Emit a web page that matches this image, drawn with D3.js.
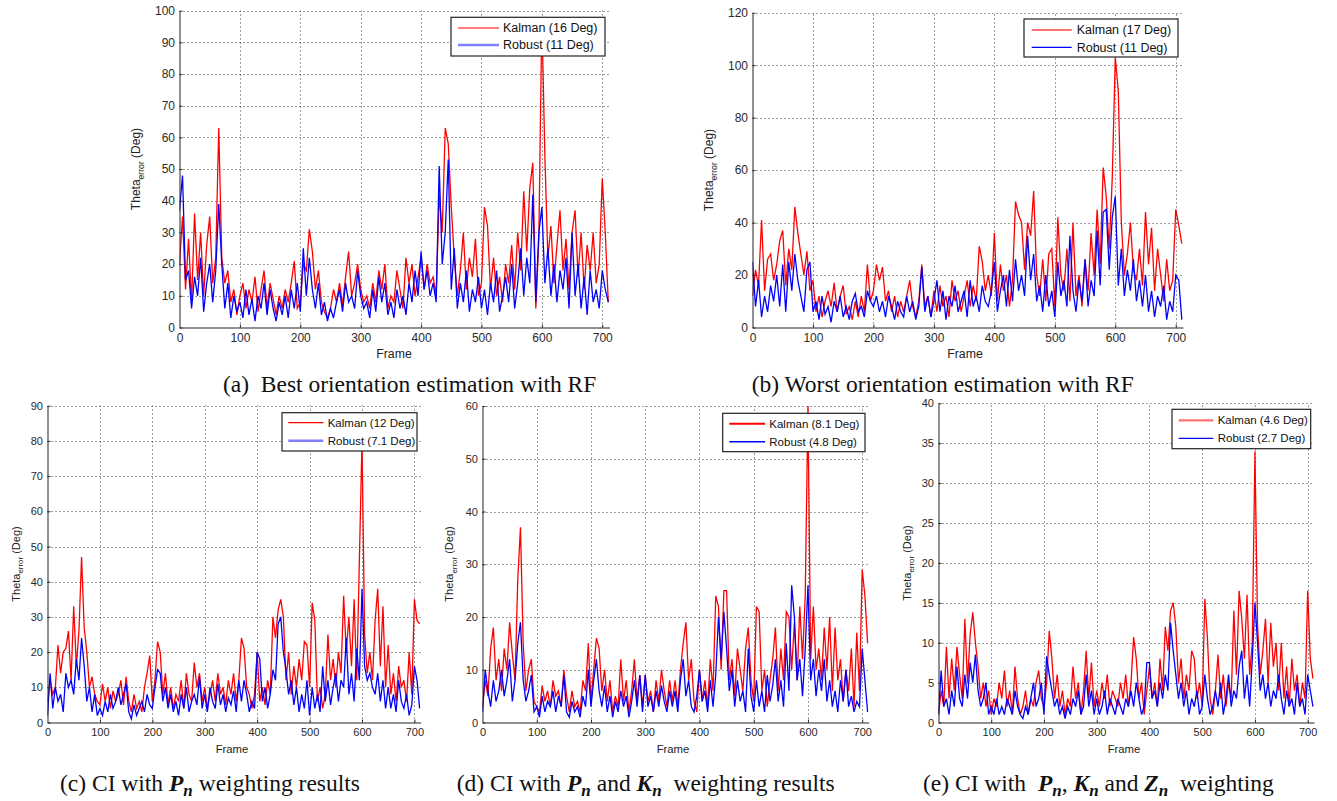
<!DOCTYPE html>
<html>
<head>
<meta charset="utf-8">
<script src="https://cdn.jsdelivr.net/npm/d3@7"></script>
<style>
  body { margin: 0; background: #fff; }
  svg { display: block; }
</style>
</head>
<body>
<svg id="fig" width="1337" height="801"></svg>
<script>
// one value every 5 frames, frames 0..710
const FRAME_STEP = 5;
const FRAME_MAX = 712;
const xTicks = [0, 100, 200, 300, 400, 500, 600, 700];

// (a) best orientation estimation with RF
const aKalman = [
  20, 35, 12, 28, 8, 36, 15, 30, 10, 26,
  35, 14, 22, 63, 22, 14, 18, 8, 12, 4,
  10, 14, 6, 12, 8, 16, 5, 12, 18, 6,
  14, 9, 4, 10, 6, 12, 8, 14, 21, 6,
  8, 20, 18, 31, 24, 12, 18, 8, 5, 3,
  6, 12, 8, 14, 7, 16, 24, 10, 14, 20,
  12, 8, 10, 6, 14, 8, 18, 12, 20, 6,
  10, 8, 18, 12, 6, 22, 14, 20, 10, 16,
  22, 12, 20, 14, 16, 10, 42, 30, 63, 58,
  38, 22, 10, 18, 30, 12, 22, 16, 28, 10,
  14, 38, 32, 12, 22, 10, 16, 8, 20, 14,
  26, 12, 30, 18, 43, 24, 44, 52, 6, 28,
  98, 54, 22, 32, 14, 26, 37, 18, 28, 12,
  30, 37, 16, 30, 12, 26, 18, 30, 14, 20,
  47, 30, 8
];
const aRobust = [
  37, 48, 15, 18, 6, 16, 10, 22, 5, 14,
  20, 8, 18, 39, 20, 6, 14, 3, 10, 5,
  8, 3, 12, 4, 9, 2, 10, 6, 14, 4,
  12, 6, 2, 8, 4, 10, 3, 12, 6, 14,
  5, 25, 10, 22, 12, 6, 14, 4, 8, 2,
  6, 3, 8, 12, 5, 14, 8, 10, 6, 18,
  10, 6, 8, 3, 12, 5, 16, 8, 14, 4,
  8, 3, 12, 6, 10, 4, 14, 8, 18, 10,
  24, 12, 18, 10, 14, 8, 51, 20, 30, 53,
  12, 25, 6, 14, 8, 18, 5, 12, 8, 16,
  6, 12, 4, 14, 8, 18, 5, 10, 16, 8,
  20, 6, 14, 25, 10, 22, 14, 42, 8, 30,
  38, 14, 25, 10, 20, 8, 18, 12, 22, 6,
  30, 10, 20, 6, 16, 4, 18, 8, 12, 6,
  18, 12, 8
];
const aYTicks = [0, 10, 20, 30, 40, 50, 60, 70, 80, 90, 100];
const aLegend = ['Kalman (16 Deg)', 'Robust (11 Deg)'];

// (b) worst orientation estimation with RF
const bKalman = [
  12, 22, 16, 41, 14, 26, 28, 18, 24, 33,
  37, 16, 30, 22, 46, 36, 28, 20, 29, 14,
  18, 6, 12, 4, 10, 14, 8, 17, 6, 12,
  16, 5, 8, 3, 10, 4, 12, 6, 24, 10,
  14, 24, 18, 23, 10, 14, 6, 12, 4, 10,
  6, 12, 18, 8, 4, 10, 24, 8, 12, 4,
  14, 6, 16, 8, 12, 4, 18, 10, 14, 6,
  12, 18, 8, 16, 10, 31, 25, 14, 20, 12,
  36, 10, 24, 14, 20, 8, 18, 48, 43, 40,
  22, 40, 35, 52, 20, 12, 26, 10, 28, 30,
  8, 42, 20, 14, 30, 10, 40, 12, 20, 8,
  26, 14, 36, 20, 45, 24, 61, 50, 30, 57,
  103, 90, 40, 20, 28, 40, 22, 18, 30, 16,
  44, 24, 38, 14, 30, 20, 10, 26, 14, 18,
  45, 39, 32
];
const bRobust = [
  25, 8, 18, 4, 12, 6, 16, 10, 20, 8,
  24, 6, 25, 14, 28, 18, 12, 6, 22, 25,
  6, 10, 3, 12, 5, 8, 2, 10, 6, 12,
  4, 8, 3, 10, 13, 6, 8, 4, 14, 10,
  8, 12, 6, 10, 4, 12, 8, 3, 10, 6,
  4, 12, 6, 10, 3, 8, 23, 6, 12, 4,
  10, 18, 6, 14, 3, 12, 8, 16, 6, 10,
  14, 4, 18, 8, 12, 6, 16, 10, 8, 14,
  25, 6, 14, 20, 8, 22, 10, 26, 14, 20,
  12, 35, 18, 28, 10, 16, 6, 20, 8, 14,
  4, 25, 12, 18, 8, 35, 14, 6, 18, 10,
  26, 8, 18, 12, 37, 16, 44, 45, 22, 42,
  50, 16, 30, 12, 22, 14, 26, 10, 18, 8,
  20, 6, 14, 4, 12, 8, 16, 3, 10, 6,
  20, 18, 3
];
const bYTicks = [0, 20, 40, 60, 80, 100, 120];
const bLegend = ['Kalman (17 Deg)', 'Robust (11 Deg)'];

// (c) CI with Pn weighting
const cKalman = [
  6, 12, 8, 10, 22, 14, 20, 21, 26, 12,
  33, 16, 26, 47, 27, 20, 10, 13, 8, 6,
  5, 11, 6, 10, 4, 9, 6, 8, 12, 5,
  13, 6, 3, 8, 4, 6, 3, 10, 14, 19,
  6, 12, 23, 20, 8, 14, 5, 10, 4, 8,
  6, 12, 4, 14, 8, 6, 17, 10, 14, 6,
  10, 4, 8, 12, 6, 14, 8, 10, 5, 12,
  8, 14, 6, 12, 24, 21, 10, 8, 4, 8,
  20, 6, 10, 5, 12, 8, 30, 24, 32, 35,
  30, 12, 20, 8, 16, 10, 18, 12, 23, 22,
  10, 34, 29, 6, 10, 4, 8, 25, 12, 18,
  10, 20, 14, 36, 20, 30, 16, 35, 12, 46,
  80, 25, 14, 20, 12, 29, 38, 16, 33, 10,
  22, 8, 14, 6, 16, 10, 12, 6, 20, 8,
  35, 29, 28
];
const cRobust = [
  2, 14, 4, 10, 6, 8, 3, 14, 10, 12,
  8, 18, 12, 24, 16, 6, 10, 3, 8, 2,
  4, 2, 6, 3, 8, 4, 6, 10, 5, 8,
  11, 3, 1, 5, 2, 4, 6, 3, 8, 5,
  4, 10, 15, 14, 6, 10, 4, 8, 3, 6,
  2, 8, 4, 10, 3, 6, 8, 5, 13, 4,
  8, 3, 10, 6, 4, 11, 5, 8, 3, 7,
  5, 9, 3, 12, 6, 12, 8, 3, 6, 4,
  20, 18, 6, 10, 4, 8, 15, 12, 28, 30,
  20, 15, 8, 12, 5, 10, 3, 8, 4, 12,
  2, 10, 4, 8, 3, 16, 6, 12, 5, 10,
  14, 6, 12, 10, 24, 8, 14, 6, 21, 12,
  38, 16, 12, 14, 10, 8, 14, 6, 12, 4,
  10, 4, 8, 3, 12, 6, 4, 8, 2, 5,
  16, 12, 4
];
const cYTicks = [0, 10, 20, 30, 40, 50, 60, 70, 80, 90];
const cLegend = ['Kalman (12 Deg)', 'Robust (7.1 Deg)'];

// (d) CI with Pn and Kn weighting
const dKalman = [
  3, 8, 5, 14, 18, 8, 12, 6, 14, 10,
  19, 13, 8, 27, 37, 15, 6, 10, 12, 4,
  3, 2, 7, 4, 6, 3, 8, 5, 6, 3,
  10, 5, 2, 6, 3, 4, 2, 8, 6, 15,
  4, 10, 16, 14, 6, 10, 4, 8, 2, 5,
  3, 12, 4, 8, 2, 6, 12, 4, 9, 3,
  9, 4, 6, 2, 8, 4, 10, 6, 3, 8,
  4, 8, 3, 10, 15, 19, 8, 12, 4, 2,
  10, 4, 8, 3, 12, 6, 24, 22, 10, 25,
  25, 8, 12, 5, 14, 10, 6, 14, 18, 8,
  4, 22, 21, 6, 10, 3, 8, 12, 18, 6,
  14, 8, 21, 20, 10, 19, 8, 22, 12, 24,
  60, 12, 22, 10, 14, 8, 18, 10, 20, 6,
  18, 8, 12, 4, 10, 6, 14, 3, 17, 6,
  29, 24, 15
];
const dRobust = [
  2, 10, 6, 3, 8, 4, 6, 10, 5, 8,
  12, 4, 8, 15, 19, 8, 4, 6, 9, 2,
  3, 1, 5, 2, 4, 3, 6, 2, 5, 3,
  9, 2, 1, 4, 2, 3, 1, 5, 3, 10,
  3, 8, 12, 6, 3, 7, 2, 5, 1, 4,
  2, 6, 3, 5, 1, 4, 8, 3, 9, 2,
  9, 3, 5, 2, 6, 3, 7, 4, 2, 6,
  3, 6, 2, 8, 12, 5, 8, 3, 2, 5,
  10, 4, 6, 2, 8, 3, 9, 20, 12, 21,
  14, 6, 10, 3, 8, 4, 6, 2, 14, 5,
  2, 8, 3, 6, 2, 9, 4, 7, 12, 4,
  8, 3, 15, 6, 26, 20, 8, 12, 5, 14,
  26, 8, 12, 5, 10, 6, 12, 4, 8, 3,
  6, 2, 8, 4, 10, 3, 5, 2, 4, 3,
  14, 8, 2
];
const dYTicks = [0, 10, 20, 30, 40, 50, 60];
const dLegend = ['Kalman (8.1 Deg)', 'Robust (4.8 Deg)'];

// (e) CI with Pn, Kn and Zn weighting
const eKalman = [
  1, 4, 2, 9.5, 3, 8, 4, 9.5, 6, 3,
  13, 5, 11, 13.8, 10, 7, 3, 5, 2, 4,
  1, 3, 2, 5, 3, 6.5, 2, 4, 1, 7,
  3, 1, 2, 4, 1, 3, 2, 5, 6.5, 3,
  2, 5, 11.5, 8, 3, 6, 2, 4, 1, 3,
  2, 7, 3, 5, 1, 4, 9, 3, 7.5, 2,
  4, 2, 5, 3, 6, 2, 4, 3, 2, 5,
  3, 6, 2, 5, 10.7, 8, 3, 5, 1, 4,
  7, 3, 5, 2, 8, 4, 12, 9, 14, 15,
  12, 5, 8, 3, 6, 4, 9, 8, 3, 5,
  2, 15.5, 10.5, 3, 1, 4, 8.5, 3, 6, 2,
  5, 3, 14, 6, 16.5, 13, 8, 16, 6, 10,
  34, 12, 6, 9, 13, 5, 12.5, 7, 10, 4,
  10, 3, 7, 2, 8, 4, 6, 2, 5, 3,
  16.5, 8, 5.5
];
const eRobust = [
  1, 6.5, 2, 3, 1, 4, 2, 7, 3, 2,
  6, 3, 7.5, 5, 8.5, 4, 2, 3, 5, 1,
  2, 1, 3, 1, 2, 1, 3, 2, 1, 4,
  2, 1, 0.5, 2, 1, 3, 5, 2, 3, 5,
  1, 8.3, 6, 4, 2, 3, 1, 2, 0.5, 2,
  1, 3, 2, 4, 1, 2, 6, 2, 4, 1,
  3, 1, 2, 4, 1, 3, 2, 1, 3, 2,
  1, 3, 2, 4, 2, 5, 3, 1, 2, 7.5,
  7.5, 3, 4, 2, 5, 3, 6, 4, 12.5, 9,
  6, 3, 5, 2, 4, 1, 3, 2, 4, 1,
  2, 6, 3, 1, 2, 4, 2, 5, 1, 3,
  6, 2, 4, 3, 7, 9, 3, 6, 2, 8,
  15, 10, 4, 6, 3, 5, 2, 4, 3, 6,
  3, 1, 4, 2, 3, 1, 5, 2, 3, 1,
  6, 4, 2
];
const eYTicks = [0, 5, 10, 15, 20, 25, 30, 35, 40];
const eLegend = ['Kalman (4.6 Deg)', 'Robust (2.7 Deg)'];

const RED = '#ff0000', BLUE = '#0000ff';
const LIGHT_RED = '#ff7373', LIGHT_BLUE = '#7f7fff';

// panel layout (pixel positions of the axes box)
const panels = [
  { kalman: aKalman, robust: aRobust, yTicks: aYTicks, yMax: 100, legend: aLegend,
    left: 179.5, right: 609.5, top: 10.7, bottom: 327.5, font: 12,
    yLab: [140, 169], xLab: [394, 358],
    box: [451, 17.3, 154, 38.7], lx: [458, 499, 503], ly: [28, 45],
    kStyle: [RED, 1.2], rStyle: [LIGHT_BLUE, 2.5] },
  { kalman: bKalman, robust: bRobust, yTicks: bYTicks, yMax: 120, legend: bLegend,
    left: 752.5, right: 1183, top: 12.7, bottom: 327.5, font: 12,
    yLab: [713, 170], xLab: [965, 358],
    box: [1024, 19, 154, 38], lx: [1031.7, 1071.7, 1076.7], ly: [30, 47.3],
    kStyle: [LIGHT_RED, 2.2], rStyle: [BLUE, 1.2] },
  { kalman: cKalman, robust: cRobust, yTicks: cYTicks, yMax: 90, legend: cLegend,
    left: 47.5, right: 420.7, top: 405.7, bottom: 722.5, font: 11,
    yLab: [19.5, 564], xLab: [232, 752.5],
    box: [282, 412.7, 135, 38.3], lx: [288.3, 323.3, 327.7], ly: [422.7, 440.7],
    kStyle: [RED, 1.2], rStyle: [LIGHT_BLUE, 2.5] },
  { kalman: dKalman, robust: dRobust, yTicks: dYTicks, yMax: 60, legend: dLegend,
    left: 482.5, right: 868.7, top: 406, bottom: 722.5, font: 11,
    yLab: [453, 564], xLab: [673, 752.5],
    box: [722.7, 413.3, 142.3, 38.4], lx: [729.3, 765, 769.3], ly: [423.7, 441.7],
    kStyle: [RED, 2], rStyle: [BLUE, 1.5] },
  { kalman: eKalman, robust: eRobust, yTicks: eYTicks, yMax: 40, legend: eLegend,
    left: 938.5, right: 1314, top: 403.3, bottom: 722.5, font: 11,
    yLab: [910.5, 563], xLab: [1124, 752.5],
    box: [1172, 409.3, 138.7, 39.4], lx: [1178.7, 1213.3, 1217.7], ly: [420.3, 438.3],
    kStyle: [LIGHT_RED, 2.2], rStyle: [BLUE, 1.2] }
];

// captions: plain parts, bold italic symbols, subscripts
const captions = [
  { x: 223, y: 391.5, parts: [['(a)  Best orientation estimation with RF']] },
  { x: 751.7, y: 391.5, parts: [['(b) Worst orientation estimation with RF']] },
  { x: 60, y: 791, parts: [['(c) CI with '], ['P', 'b'], ['n', 's'], [' weighting results']] },
  { x: 456.7, y: 791, parts: [['(d) CI with '], ['P', 'b'], ['n', 's'], [' and '], ['K', 'b'], ['n', 's'], ['  weighting results']] },
  { x: 923, y: 791, parts: [['(e) CI with  '], ['P', 'b'], ['n', 's'], [', '], ['K', 'b'], ['n', 's'], [' and '], ['Z', 'b'], ['n', 's'], ['  weighting']] }
];

const svg = d3.select('#fig');
const SANS = "'Liberation Sans', Arial, Helvetica, sans-serif";
const SERIF = "'Liberation Serif', 'Times New Roman', serif";

svg.append('rect').attr('width', 1337).attr('height', 801).attr('fill', '#fff');

panels.forEach((p, idx) => {
  const g = svg.append('g');
  const x = d3.scaleLinear().domain([0, FRAME_MAX]).range([p.left, p.right]);
  const y = d3.scaleLinear().domain([0, p.yMax]).range([p.bottom, p.top]);

  // dotted grid
  g.append('g')
    .selectAll('line')
    .data(p.yTicks.filter((d) => d > 0))
    .join('line')
    .attr('x1', p.left).attr('x2', p.right)
    .attr('y1', (d) => Math.round(y(d)) + 0.5).attr('y2', (d) => Math.round(y(d)) + 0.5)
    .attr('stroke', '#000').attr('stroke-width', 1).attr('stroke-dasharray', '1,3').attr('opacity', 0.75);
  g.append('g')
    .selectAll('line')
    .data(xTicks.filter((d) => d > 0))
    .join('line')
    .attr('x1', (d) => Math.round(x(d)) + 0.5).attr('x2', (d) => Math.round(x(d)) + 0.5)
    .attr('y1', p.bottom).attr('y2', p.top)
    .attr('stroke', '#000').attr('stroke-width', 1).attr('stroke-dasharray', '1,3').attr('opacity', 0.75);

  // series
  const clipId = 'clip' + idx;
  g.append('clipPath').attr('id', clipId)
    .append('rect')
    .attr('x', p.left).attr('y', p.top - 2)
    .attr('width', p.right - p.left).attr('height', p.bottom - p.top + 2);

  const line = d3.line()
    .x((d, i) => x(i * FRAME_STEP))
    .y((d) => y(d));

  const plot = g.append('g').attr('clip-path', `url(#${clipId})`);
  plot.append('path').datum(p.kalman)
    .attr('d', line).attr('fill', 'none')
    .attr('stroke', RED).attr('stroke-width', 1.3);
  plot.append('path').datum(p.robust)
    .attr('d', line).attr('fill', 'none')
    .attr('stroke', BLUE).attr('stroke-width', 1.3);

  // axes
  const yAxis = d3.axisLeft(y).tickValues(p.yTicks).tickSizeInner(-3).tickSizeOuter(0).tickPadding(4.5);
  const xAxis = d3.axisBottom(x).tickValues(xTicks).tickSizeInner(-3).tickSizeOuter(0).tickPadding(6);

  const ya = g.append('g').attr('transform', `translate(${p.left},0)`).call(yAxis);
  const xa = g.append('g').attr('transform', `translate(0,${p.bottom})`).call(xAxis);
  [ya, xa].forEach((a) => {
    a.attr('font-family', SANS).attr('font-size', p.font).attr('color', '#2a2a2a');
    a.select('.domain').attr('stroke', '#222');
  });
  // first x tick label sits at the axis corner
  xa.selectAll('.tick line').filter((d) => d === 0).remove();

  // axis titles
  g.append('text')
    .attr('x', p.xLab[0]).attr('y', p.xLab[1])
    .attr('text-anchor', 'middle')
    .attr('font-family', SANS).attr('font-size', p.font + 0.3).attr('fill', '#222')
    .text('Frame');

  const yl = g.append('text')
    .attr('transform', `translate(${p.yLab[0]},${p.yLab[1]}) rotate(-90)`)
    .attr('text-anchor', 'middle')
    .attr('font-family', SANS).attr('font-size', p.font).attr('fill', '#222');
  yl.append('tspan').text('Theta');
  yl.append('tspan').attr('dy', 3.5).attr('font-size', p.font * 0.72).text('error');
  yl.append('tspan').attr('dy', -3.5).text(' (Deg)');

  // legend
  const [bx, by, bw, bh] = p.box;
  const lg = g.append('g');
  lg.append('rect')
    .attr('x', bx).attr('y', by).attr('width', bw).attr('height', bh)
    .attr('fill', '#fff').attr('stroke', '#222').attr('stroke-width', 1.2);
  [p.kStyle, p.rStyle].forEach((st, k) => {
    lg.append('line')
      .attr('x1', p.lx[0]).attr('x2', p.lx[1])
      .attr('y1', p.ly[k]).attr('y2', p.ly[k])
      .attr('stroke', st[0]).attr('stroke-width', st[1]);
    lg.append('text')
      .attr('x', p.lx[2]).attr('y', p.ly[k] + p.font * 0.36)
      .attr('font-family', SANS).attr('font-size', p.font + 0.5).attr('fill', '#111')
      .text(p.legend[k]);
  });
});

// captions under the panels
captions.forEach((c) => {
  const t = svg.append('text')
    .attr('x', c.x).attr('y', c.y)
    .attr('font-family', SERIF).attr('font-size', 23.5).attr('fill', '#111')
    .style('white-space', 'pre');
  let shifted = false;
  c.parts.forEach(([str, kind]) => {
    const s = t.append('tspan').text(str);
    if (kind === 'b') {
      s.attr('font-weight', 'bold').attr('font-style', 'italic');
      if (shifted) { s.attr('dy', -5); shifted = false; }
    } else if (kind === 's') {
      s.attr('font-weight', 'bold').attr('font-style', 'italic')
        .attr('font-size', 17).attr('dy', 5);
      shifted = true;
    } else if (shifted) {
      s.attr('dy', -5);
      shifted = false;
    }
  });
});
</script>
</body>
</html>
